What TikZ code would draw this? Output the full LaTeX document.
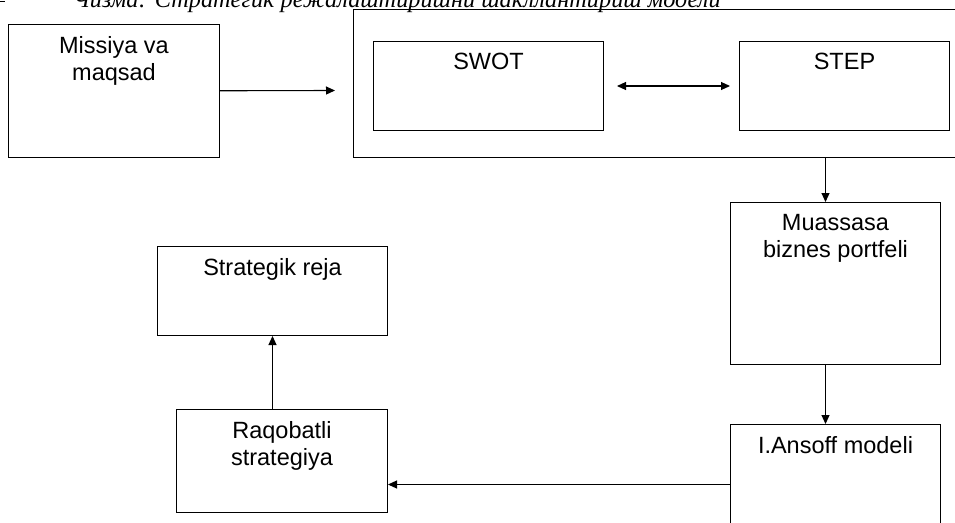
\documentclass[tikz,border=0pt]{standalone}
\usepackage{fontspec}
\setmainfont{Liberation Sans}
\newfontfamily\capfont{Liberation Serif}
\usetikzlibrary{arrows.meta, positioning}

\begin{document}
\begin{tikzpicture}[
		x=1pt, y=-1pt,
		>={Triangle[length=9pt, width=8pt]},
		box/.style={
			draw, line width=1pt, anchor=north west, inner sep=0pt
		},
		boxtext/.style={
			font=\fontsize{23.5}{27}\selectfont, align=center,
			anchor=north, inner sep=0pt, yshift=-12pt
		},
		arrow/.style={->, line width=1.1pt},
		caption/.style={font=\capfont\itshape\fontsize{24.3}{28}\selectfont, anchor=base west, inner sep=0pt}
		]
		
		% Page frame (the picture is a cut-out)
		\useasboundingbox (0,0) rectangle (955,522);
		\clip (0,0) rectangle (955,522);
		
		% Caption, cut at the top edge
		\draw[line width=0.9pt] (0,1.5) -- (5,1.5);
		\node[caption] (title) at (73,7.5) {Чизма: Стратегик режалаштиришни шакллантириш модели};
		
		% Top row
		\node[box, minimum width=211pt, minimum height=133pt,
		label={[boxtext]north:{Missiya va\\maqsad}}] (miss) at (8,24) {};
		\node[box, minimum width=610pt, minimum height=148pt] (env) at (353,9) {};
		\node[box, minimum width=230pt, minimum height=89pt,
		label={[boxtext]north:SWOT}] (swot) at (373,41) {};
		\node[box, minimum width=210pt, minimum height=89pt,
		label={[boxtext]north:STEP}] (step) at (739,41) {};
		
		% Right column
		\node[box, minimum width=210pt, minimum height=162pt,
		label={[boxtext]north:{Muassasa\\biznes portfeli}}] (port) at (730,202) {};
		\node[box, minimum width=210pt, minimum height=120pt,
		label={[boxtext]north:I.Ansoff modeli}] (ansoff) at (730,424) {};
		
		% Left column
		\node[box, minimum width=211pt, minimum height=103pt,
		label={[boxtext]north:{Raqobatli\\strategiya}}] (raq) at (176,409) {};
		\node[box, minimum width=230pt, minimum height=89pt,
		label={[boxtext]north:Strategik reja}] (plan) at (157,246) {};
		
		% --- Connectors ---
		\coordinate (gap) at (335,90.5);
		\draw[arrow] (miss) -- (gap);
		
		\draw[arrow, <->] ([xshift=13pt]swot.east) -- ([xshift=-9pt]step.west);
		
		\draw[arrow] ([xshift=-10pt]port.north |- env.south) -- ([xshift=-10pt]port.north);
		\draw[arrow] ([xshift=-10pt]port.south) -- ([xshift=-10pt]ansoff.north);
		
		\draw[arrow] (ansoff.west) -- (ansoff.west -| raq.east);
		\draw[arrow] (raq.north -| plan.south) -- (plan.south);
		
	\end{tikzpicture}
\end{document}
